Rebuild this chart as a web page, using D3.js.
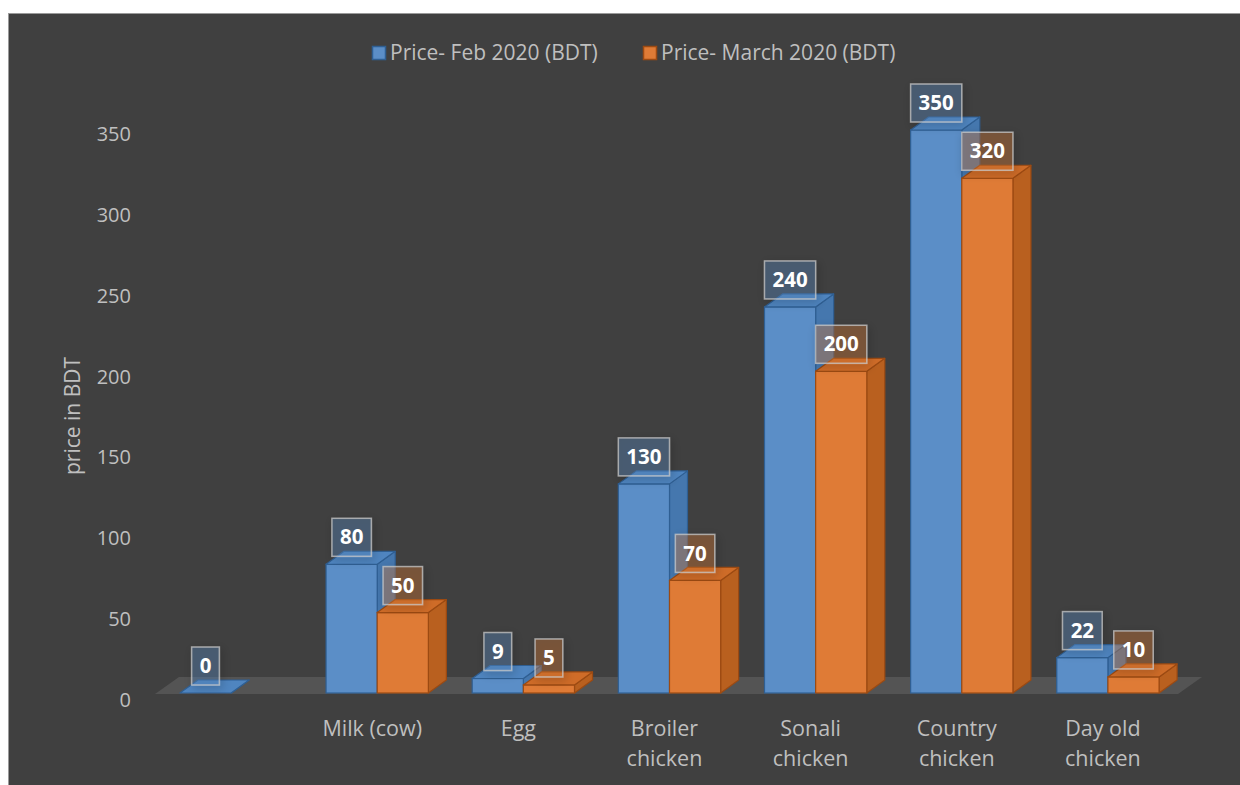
<!DOCTYPE html>
<html><head><meta charset="utf-8">
<script src="https://cdn.jsdelivr.net/npm/d3@7"></script>
<style>
html,body{margin:0;padding:0;background:#fff;}
svg{display:block;font-family:"Open Sans",sans-serif;}
</style></head>
<body>
<svg id="chart" width="1240" height="785"></svg>
<script>
const categoryLabels = [[""], ["Milk (cow)"], ["Egg"], ["Broiler", "chicken"], ["Sonali", "chicken"], ["Country", "chicken"], ["Day old", "chicken"]];
const febValues = [0, 80, 9, 130, 240, 350, 22];
const marValues = [null, 50, 5, 70, 200, 320, 10];
const seriesNames = ["Price- Feb 2020 (BDT)", "Price- March 2020 (BDT)"];
const yTicks = [0, 50, 100, 150, 200, 250, 300, 350];
const yTitle = "price in BDT";

const svg = d3.select("#chart");
const W = 1240, H = 785;

svg.append("rect").attr("x", 8.5).attr("y", 13.5).attr("width", W - 8).attr("height", H - 13)
  .attr("fill", "#404040").attr("stroke", "#9a9a9a").attr("stroke-width", 1);

const defs = svg.append("defs");
const f = defs.append("filter").attr("id", "shadow").attr("x", "-50%").attr("y", "-50%").attr("width", "200%").attr("height", "200%");
f.append("feGaussianBlur").attr("in", "SourceAlpha").attr("stdDeviation", 5).attr("result", "b");
f.append("feOffset").attr("dx", 2).attr("dy", 3).attr("result", "o");
f.append("feComponentTransfer").append("feFuncA").attr("type", "linear").attr("slope", 0.4);
const fm = f.append("feMerge");
fm.append("feMergeNode");
fm.append("feMergeNode").attr("in", "SourceGraphic");

const idx = d3.range(categoryLabels.length);
const x0 = d3.scaleBand().domain(idx).range([158, 1181]).paddingInner(0.3).paddingOuter(0.15);
const x1 = d3.scaleBand().domain([0, 1]).range([0, x0.bandwidth()]).padding(0);
const y = d3.scaleLinear().domain([0, 350]).range([693, 130]);
const yAxisScale = d3.scaleLinear().domain([0, 350]).range([700, 134]);

const DX = 18, DY = -13;
const FDX = 24, FDY = -17;

// floor
const fl = x0.range()[0] - 3, fr = x0.range()[1] - 3, fy = y(0) + 1;
svg.append("path")
  .attr("d", `M${fl},${fy} L${fl + FDX},${fy + FDY} L${fr + FDX},${fy + FDY} L${fr},${fy} Z`)
  .attr("fill", "#545454");

// y tick labels
svg.append("g").selectAll("text").data(yTicks).join("text")
  .attr("x", 131).attr("y", d => yAxisScale(d)).attr("dy", "0.35em")
  .attr("text-anchor", "end").attr("fill", "#bfbfbf").attr("font-size", 20)
  .text(d => d);

// y title
svg.append("text").attr("transform", "translate(80,416) rotate(-90)")
  .attr("text-anchor", "middle").attr("fill", "#bfbfbf").attr("font-size", 21).text(yTitle);

const colors = [
  {front: "#5b8ec7", side: "#4577ae", top: "#4f85c0", stroke: "#2f5f93", box: "rgba(91,142,199,0.33)"},
  {front: "#df7b36", side: "#b9601f", top: "#cf6c28", stroke: "#9c4a12", box: "rgba(223,123,54,0.33)"}
];

const series = [febValues, marValues];
const barsG = svg.append("g");
const labelsG = svg.append("g");

idx.forEach(i => {
  series.forEach((vals, s) => {
    const v = vals[i];
    if (v === null || v === undefined) return;
    const c = colors[s];
    const xa = x0(i) + x1(s), xb = xa + x1.bandwidth();
    const yt = y(v), yb = y(0);
    const g = barsG.append("g");
    g.append("path").attr("d", `M${xb},${yt} L${xb + DX},${yt + DY} L${xb + DX},${yb + DY} L${xb},${yb} Z`)
      .attr("fill", c.side).attr("stroke", c.stroke).attr("stroke-width", 1.2).attr("stroke-linejoin", "round");
    g.append("rect").attr("x", xa).attr("y", yt).attr("width", xb - xa).attr("height", yb - yt)
      .attr("fill", c.front).attr("stroke", c.stroke).attr("stroke-width", 1.2);
    g.append("path").attr("d", `M${xa},${yt} L${xa + DX},${yt + DY} L${xb + DX},${yt + DY} L${xb},${yt} Z`)
      .attr("fill", c.top).attr("stroke", c.stroke).attr("stroke-width", 1.2).attr("stroke-linejoin", "round");

    const cx = (xa + xb) / 2;
    const lg = labelsG.append("g");
    const t = lg.append("text").attr("x", cx).attr("y", yt - 27).attr("dy", "0.35em")
      .attr("text-anchor", "middle").attr("fill", "#ffffff").attr("font-size", 20.5).attr("font-weight", "bold")
      .text(v);
    const bb = t.node().getBBox();
    lg.insert("rect", "text").attr("x", cx - bb.width / 2 - 8).attr("y", yt - 46)
      .attr("width", bb.width + 16).attr("height", 38)
      .attr("fill", c.box).attr("stroke", "rgba(200,200,200,0.75)").attr("stroke-width", 1.5)
      .attr("filter", "url(#shadow)");
  });
});

// category labels
idx.forEach(i => {
  const lines = categoryLabels[i];
  const cx = x0(i) + x0.bandwidth() / 2 - 5;
  const t = svg.append("text").attr("text-anchor", "middle").attr("fill", "#bfbfbf").attr("font-size", 21.5);
  lines.forEach((ln, k) => {
    t.append("tspan").attr("x", cx).attr("y", 728 + k * 30).attr("dy", "0.35em").text(ln);
  });
});

// legend
const legend = svg.append("g");
const legendPos = [372, 643];
seriesNames.forEach((n, s) => {
  legend.append("rect").attr("x", legendPos[s] + 0.5).attr("y", 46.5).attr("width", 13).attr("height", 13)
    .attr("fill", colors[s].front).attr("stroke", colors[s].stroke).attr("stroke-width", 1.5);
  legend.append("text").attr("x", legendPos[s] + 18).attr("y", 53).attr("dy", "0.35em")
    .attr("fill", "#bfbfbf").attr("font-size", 21).text(n);
});
</script>
</body></html>
